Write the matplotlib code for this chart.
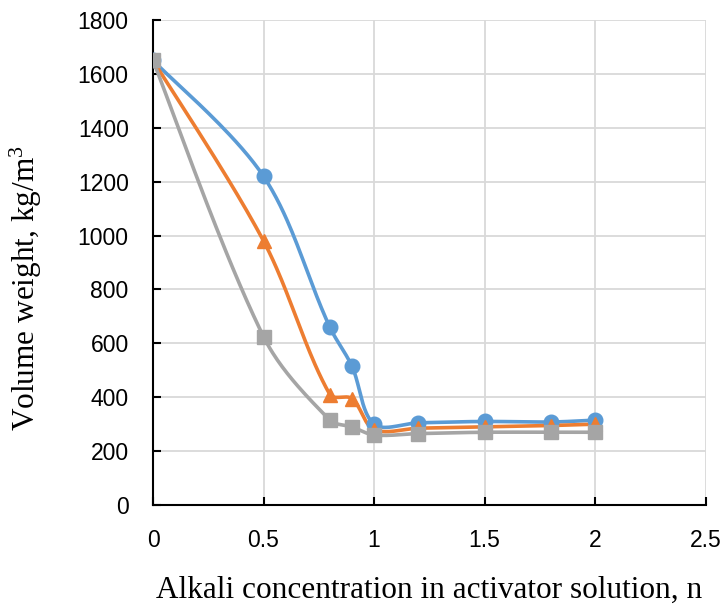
import numpy as np
import matplotlib
matplotlib.use("Agg")
import matplotlib.pyplot as plt

plt.rcParams["mathtext.fontset"] = "custom"
plt.rcParams["mathtext.rm"] = "Liberation Serif"
plt.rcParams["mathtext.it"] = "Liberation Serif:italic"

# Alkali concentration (n) and volume weight (kg/m3) for three mixes
x_vals = [0, 0.5, 0.8, 0.9, 1.0, 1.2, 1.5, 1.8, 2.0]
series_blue = [1650, 1220, 660, 515, 300, 305, 310, 308, 315]
series_orange = [1650, 980, 410, 395, 280, 285, 290, 295, 300]
series_gray = [1650, 625, 315, 290, 260, 265, 270, 270, 270]

x_ticks = [0, 0.5, 1, 1.5, 2, 2.5]
x_tick_labels = ["0", "0.5", "1", "1.5", "2", "2.5"]
y_ticks = [0, 200, 400, 600, 800, 1000, 1200, 1400, 1600, 1800]


def smooth_curve(ax, xs, ys, n=40):
    """Bezier smoothing in display space, tangents weighted by chord length."""
    pts = ax.transData.transform(np.column_stack([xs, ys]).astype(float))
    k = len(pts)
    out = []
    for i in range(k - 1):
        p0 = pts[i - 1] if i > 0 else pts[i]
        p1 = pts[i]
        p2 = pts[i + 1]
        p3 = pts[i + 2] if i + 2 < k else pts[i + 1]
        d01 = np.hypot(*(p1 - p0))
        d12 = np.hypot(*(p2 - p1))
        d23 = np.hypot(*(p3 - p2))
        w1 = d12 / (d01 + d12) if d01 > 0 else 0.5
        w2 = d12 / (d12 + d23) if d23 > 0 else 0.5
        c1 = p1 + (p2 - p0) * w1 / 3.0
        c2 = p2 - (p3 - p1) * w2 / 3.0
        t = np.linspace(0, 1, n)[:, None]
        seg = ((1 - t) ** 3) * p1 + 3 * ((1 - t) ** 2) * t * c1 \
            + 3 * (1 - t) * t ** 2 * c2 + t ** 3 * p2
        out.append(seg if i == 0 else seg[1:])
    seg = ax.transData.inverted().transform(np.vstack(out))
    return seg[:, 0], seg[:, 1]


fig = plt.figure(figsize=(7.2, 6.04), dpi=100)
ax = fig.add_axes([0.2125, 0.1639, 0.7675, 0.803])
ax.set_xlim(0, 2.5)
ax.set_ylim(0, 1800)

styles = [
    (series_blue, "#5B9BD5", "o", 10.5),
    (series_orange, "#ED7D31", "^", 10.5),
    (series_gray, "#A5A5A5", "s", 10),
]
for ys, col, mk, ms in styles:
    sx, sy = smooth_curve(ax, x_vals, ys)
    ax.plot(sx, sy, color=col, lw=2.6, solid_capstyle="round", zorder=3)
    ax.plot(x_vals, ys, ls="none", marker=mk, ms=ms, color=col, zorder=4)

ax.set_xlim(0, 2.5)
ax.set_ylim(0, 1800)
ax.set_xticks(x_ticks)
ax.set_xticklabels(x_tick_labels)
ax.set_yticks(y_ticks)
ax.grid(True, color="#D9D9D9", lw=1.3, zorder=0)
ax.set_axisbelow(True)

for side in ("top", "right"):
    ax.spines[side].set_visible(False)
for side in ("left", "bottom"):
    ax.spines[side].set_color("black")
    ax.spines[side].set_linewidth(1.5)

ax.tick_params(direction="in", length=6, width=1.5, color="black",
               labelsize=16.5)
ax.tick_params(axis="y", pad=17.5)
ax.tick_params(axis="x", pad=17.5)
for lab in ax.get_xticklabels() + ax.get_yticklabels():
    lab.set_fontfamily("Liberation Sans")

ax.set_xlabel("Alkali concentration in activator solution, n",
              family="Liberation Serif", fontsize=22.5, labelpad=17)
ax.set_ylabel("Volume weight, kg/m$^3$", family="Liberation Serif",
              fontsize=22.5)
ax.yaxis.set_label_coords(-0.198, 0.447)

fig.savefig("out.png", dpi=100)
